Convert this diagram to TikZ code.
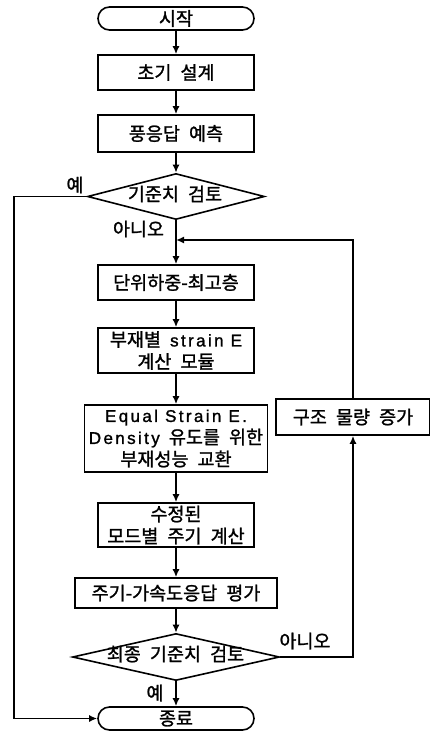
\documentclass[tikz,border=0pt]{standalone}
\usepackage{fontspec}
\setmainfont{Noto Sans CJK KR}[WordSpace=2.2,FakeBold=1.3]
\newfontfamily\latf{Liberation Sans}[LetterSpace=14,FakeBold=1.3]
\newcommand\en[1]{{\latf\fontsize{17}{22}\selectfont #1}}
\newcommand\kfont{\fontsize{18.5}{22}\selectfont}
\usetikzlibrary{shapes.geometric,arrows.meta}
\tikzset{
  box/.style={draw, line width=1.6pt, minimum width=156pt, minimum height=35pt,
    inner sep=0pt, align=center, font=\kfont},
  term/.style={box, rounded corners=11.5pt, minimum height=23pt},
  dia/.style={draw, diamond, line width=1.6pt, inner sep=0pt},
  txt/.style={inner sep=0pt, font=\kfont},
  arr/.style={line width=1.6pt, -{Latex[length=8pt,width=7pt]}},
}
\begin{document}
\begin{tikzpicture}[x=1pt,y=-1pt]
\useasboundingbox (0,0) rectangle (429,731);
\node[term] (start) at (176,18.5) {시작};
\node[box, minimum height=35pt] (b1) at (176,72.5) {초기 설계};
\node[box, minimum height=37pt] (b2) at (176,133.5) {풍응답 예측};
\node[dia, minimum width=177pt, minimum height=46pt] (d1) at (176,196.5) {};
\node[txt] (d1t) at (175,194) {기준치 검토};
\node[box] (b3) at (176,282.5) {단위하중-최고층};
\node[box, minimum height=45pt] (b4) at (176,350.5) {부재별 \en{strain E}\\계산 모듈};
\node[box, minimum width=183pt, minimum height=67pt] (b5) at (176,438.5) {\en{Equal Strain E.}\\\en{Density} 유도를 위한\\부재성능 교환};
\node[box, minimum height=44pt] (b6) at (176,525) {수정된\\모드별 주기 계산};
\node[box, minimum width=202pt, minimum height=30pt] (b7) at (176,593) {주기-가속도응답 평가};
\node[dia, minimum width=207pt, minimum height=47pt] (d2) at (176,657) {};
\node[txt] (d2t) at (175.5,654) {최종 기준치 검토};
\node[term] (end) at (176,718.5) {종료};
\node[box, minimum width=154pt, minimum height=36pt] (b8) at (353,417) {구조 물량 증가};
\coordinate (L) at (14,0);
\coordinate (fb) at (176,240);
\node[txt] (y1) at (75,185) {예};
\node[txt] (n1) at (138.5,229) {아니오};
\node[txt] (n2) at (305,641) {아니오};
\node[txt] (y2) at (155,693) {예};
\draw[arr] (start) -- (b1);
\draw[arr] (b1) -- (b2);
\draw[arr] (b2) -- (d1);
\draw[arr] (d1) -- (b3);
\draw[arr] (b3) -- (b4);
\draw[arr] (b4) -- (b5);
\draw[arr] (b5) -- (b6);
\draw[arr] (b6) -- (b7);
\draw[arr] (b7) -- (d2);
\draw[arr] (d2) -- (end);
\draw[arr] (d1.west) -- (d1.west -| L) |- (end.west);
\draw[arr] (d2.east) -| (b8.south);
\draw[arr] (b8.north) |- (fb);
\end{tikzpicture}
\end{document}
